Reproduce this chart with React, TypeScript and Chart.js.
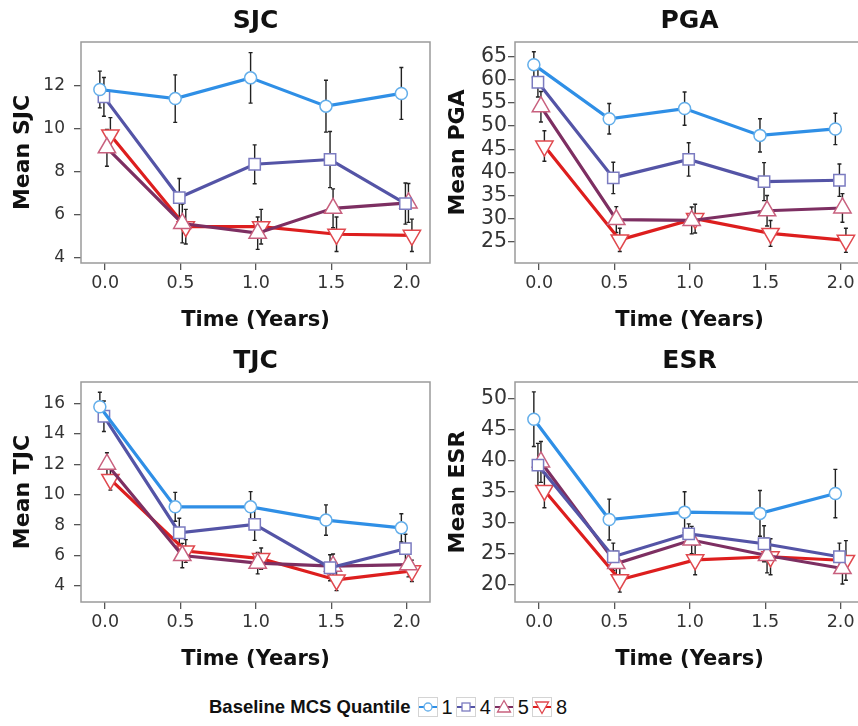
import React, { useEffect, useRef } from "react";
import { Chart, registerables } from "chart.js";
Chart.register(...registerables);

// ---------- data ----------
const timePoints = [0, 0.5, 1, 1.5, 2];
const xTickLabels = ["0.0", "0.5", "1.0", "1.5", "2.0"];
const quantiles = ["1", "4", "5", "8"];
const dodge = [-0.035, -0.008, 0.012, 0.035];

const sjcQ1 = [11.8, 11.38, 12.34, 11.03, 11.62];
const sjcQ4 = [11.46, 6.8, 8.34, 8.56, 6.52];
const sjcQ5 = [9.1, 5.6, 5.15, 6.3, 6.55];
const sjcQ8 = [9.7, 5.45, 5.45, 5.1, 5.05];
const sjcQ1Se = [0.85, 1.1, 1.17, 1.2, 1.2];
const sjcQ4Se = [0.9, 0.88, 0.9, 1.3, 0.95];
const sjcQ5Se = [0.85, 0.9, 0.75, 0.9, 0.9];
const sjcQ8Se = [0.8, 0.8, 0.8, 0.8, 0.75];
const sjcTicks = [4, 6, 8, 10, 12];

const pgaQ1 = [63.3, 51.6, 53.8, 48.0, 49.4];
const pgaQ4 = [59.5, 38.8, 42.8, 38.0, 38.3];
const pgaQ5 = [54.2, 29.8, 29.6, 31.7, 32.3];
const pgaQ8 = [45.7, 25.4, 30.0, 26.8, 25.3];
const pgaQ1Se = [2.8, 3.3, 3.6, 3.6, 3.4];
const pgaQ4Se = [3.2, 3.4, 3.6, 4.1, 3.5];
const pgaQ5Se = [3.3, 2.8, 2.9, 3.3, 3.1];
const pgaQ8Se = [3.3, 2.5, 3.1, 2.8, 2.6];
const pgaTicks = [25, 30, 35, 40, 45, 50, 55, 60, 65];

const tjcQ1 = [15.78, 9.2, 9.2, 8.33, 7.82];
const tjcQ4 = [15.15, 7.5, 8.05, 5.2, 6.45];
const tjcQ5 = [12.0, 6.0, 5.5, 5.3, 5.4];
const tjcQ8 = [11.0, 6.3, 5.8, 4.4, 5.0];
const tjcQ1Se = [0.95, 0.95, 1.0, 1.0, 0.93];
const tjcQ4Se = [1.0, 0.95, 1.05, 0.85, 0.95];
const tjcQ5Se = [0.75, 0.8, 0.7, 0.8, 0.8];
const tjcQ8Se = [0.7, 0.75, 0.7, 0.7, 0.7];
const tjcTicks = [4, 6, 8, 10, 12, 14, 16];

const esrQ1 = [46.7, 30.5, 31.7, 31.5, 34.7];
const esrQ4 = [39.3, 24.5, 28.2, 26.6, 24.5];
const esrQ5 = [39.8, 23.4, 27.2, 24.7, 22.6];
const esrQ8 = [35.2, 20.8, 24.0, 24.5, 23.9];
const esrQ1Se = [4.4, 3.3, 3.3, 3.7, 3.9];
const esrQ4Se = [3.5, 2.2, 1.6, 2.9, 2.2];
const esrQ5Se = [3.3, 2.0, 2.2, 2.8, 2.5];
const esrQ8Se = [2.8, 2.0, 2.4, 2.9, 3.2];
const esrTicks = [20, 25, 30, 35, 40, 45, 50];

// ---------- styles ----------
const lineColors = ["#2f8fe6", "#5454a6", "#7d2f62", "#dd1e1e"];
const markerColors = ["#63aeea", "#7b7bc0", "#c8607e", "#e0484e"];
const pointStyles = ["circle", "rect", "triangle", "triangle"];
const pointRadii = [6, 8, 10, 10];
const pointRotations = [0, 0, 0, 180];
const FONT = "'DejaVu Sans', 'Liberation Sans', Arial, sans-serif";
const LEGEND_FONT = "'Liberation Sans', Arial, sans-serif";

type Panel = {
  title: string;
  yTitle: string;
  means: number[][];
  ses: number[][];
  yTicks: number[];
  yMin: number;
  yMax: number;
  left: number;
  top: number;
  width: number;
  height: number;
  padTop: number;
  padRight: number;
  yWidth: number;
  yTitlePad: number;
  yTickPad: number;
  yTickFont: number;
};

const panels: Panel[] = [
  {
    title: "SJC", yTitle: "Mean SJC",
    means: [sjcQ1, sjcQ4, sjcQ5, sjcQ8], ses: [sjcQ1Se, sjcQ4Se, sjcQ5Se, sjcQ8Se],
    yTicks: sjcTicks, yMin: 3.77, yMax: 14.0,
    left: 0, top: 0, width: 432, height: 335, padTop: 42, padRight: 2,
    yWidth: 81, yTitlePad: 10, yTickPad: 9, yTickFont: 17,
  },
  {
    title: "PGA", yTitle: "Mean PGA",
    means: [pgaQ1, pgaQ4, pgaQ5, pgaQ8], ses: [pgaQ1Se, pgaQ4Se, pgaQ5Se, pgaQ8Se],
    yTicks: pgaTicks, yMin: 20.4, yMax: 68.2,
    left: 430, top: 0, width: 436, height: 335, padTop: 42, padRight: 2,
    yWidth: 85, yTitlePad: 15, yTickPad: 1, yTickFont: 20.5,
  },
  {
    title: "TJC", yTitle: "Mean TJC",
    means: [tjcQ1, tjcQ4, tjcQ5, tjcQ8], ses: [tjcQ1Se, tjcQ4Se, tjcQ5Se, tjcQ8Se],
    yTicks: tjcTicks, yMin: 2.95, yMax: 17.4,
    left: 0, top: 335, width: 432, height: 339, padTop: 47, padRight: 2,
    yWidth: 81, yTitlePad: 10, yTickPad: 9, yTickFont: 17,
  },
  {
    title: "ESR", yTitle: "Mean ESR",
    means: [esrQ1, esrQ4, esrQ5, esrQ8], ses: [esrQ1Se, esrQ4Se, esrQ5Se, esrQ8Se],
    yTicks: esrTicks, yMin: 17.2, yMax: 52.7,
    left: 430, top: 335, width: 436, height: 339, padTop: 47, padRight: 2,
    yWidth: 85, yTitlePad: 15, yTickPad: 1, yTickFont: 20.5,
  },
];

function PanelChart({ p }: { p: Panel }) {
  const ref = useRef<HTMLCanvasElement | null>(null);
  useEffect(() => {
    if (!ref.current) return;
    const decor = {
      id: "decor",
      beforeDatasetsDraw(chart: any) {
        const { ctx, chartArea: a, scales } = chart;
        ctx.save();
        ctx.strokeStyle = "#9a9a9a";
        ctx.lineWidth = 1.5;
        ctx.strokeRect(a.left, a.top, a.right - a.left, a.bottom - a.top);
        // error bars
        ctx.strokeStyle = "#222";
        ctx.lineWidth = 1.4;
        p.means.forEach((m, i) => {
          m.forEach((v, j) => {
            const x = scales.x.getPixelForValue(timePoints[j] + dodge[i]);
            const y1 = scales.y.getPixelForValue(v - p.ses[i][j]);
            const y2 = scales.y.getPixelForValue(v + p.ses[i][j]);
            ctx.beginPath();
            ctx.moveTo(x, y1);
            ctx.lineTo(x, y2);
            ctx.moveTo(x - 2, y1);
            ctx.lineTo(x + 2, y1);
            ctx.moveTo(x - 2, y2);
            ctx.lineTo(x + 2, y2);
            ctx.stroke();
          });
        });
        ctx.restore();
      },
      afterDraw(chart: any) {
        const { ctx, chartArea: a } = chart;
        ctx.save();
        ctx.fillStyle = "#111";
        ctx.font = `bold 25px ${FONT}`;
        ctx.textAlign = "center";
        ctx.textBaseline = "middle";
        ctx.fillText(p.title, (a.left + a.right) / 2, a.top - 21);
        ctx.restore();
      },
    };
    const chart = new Chart(ref.current, {
      type: "line",
      data: {
        datasets: p.means.map((m, i) => ({
          label: quantiles[i],
          data: m.map((v, j) => ({ x: timePoints[j] + dodge[i], y: v })),
          borderColor: lineColors[i],
          borderWidth: 3.2,
          pointStyle: pointStyles[i] as any,
          pointRadius: pointRadii[i],
          pointRotation: pointRotations[i],
          pointBackgroundColor: "#ffffff",
          pointBorderColor: markerColors[i],
          pointBorderWidth: 1.5,
          tension: 0,
          clip: false as any,
        })),
      },
      options: {
        animation: false,
        responsive: false,
        devicePixelRatio: 1,
        layout: { autoPadding: false, padding: { top: p.padTop, right: p.padRight, left: 0, bottom: 0 } },
        plugins: { legend: { display: false }, tooltip: { enabled: false }, title: { display: false } },
        scales: {
          x: {
            type: "linear",
            min: -0.16,
            max: 2.155,
            afterBuildTicks: (s: any) => {
              s.ticks = timePoints.map((v) => ({ value: v }));
            },
            afterFit: (s: any) => {
              s.height = 72;
              s.paddingLeft = 0;
              s.paddingRight = 0;
            },
            ticks: {
              callback: (v: any) => xTickLabels[timePoints.indexOf(Number(v))] ?? "",
              font: { family: FONT, size: 17.5 },
              color: "#333",
              padding: 3,
              maxRotation: 0,
              autoSkip: false,
            },
            grid: { drawOnChartArea: false, drawTicks: true, tickLength: 7, color: "#555", lineWidth: 1.3 },
            border: { display: false },
            title: {
              display: true,
              text: "Time (Years)",
              font: { family: FONT, size: 21, weight: "bold" },
              color: "#111",
              padding: { top: 0, bottom: 2 },
            },
          },
          y: {
            type: "linear",
            min: p.yMin,
            max: p.yMax,
            afterBuildTicks: (s: any) => {
              s.ticks = p.yTicks.map((v) => ({ value: v }));
            },
            afterFit: (s: any) => {
              s.width = p.yWidth;
              s.paddingTop = 0;
              s.paddingBottom = 0;
            },
            ticks: {
              font: { family: FONT, size: p.yTickFont },
              color: "#333",
              padding: p.yTickPad,
              autoSkip: false,
            },
            grid: { drawOnChartArea: false, drawTicks: true, tickLength: 7, color: "#555", lineWidth: 1.3 },
            border: { display: false },
            title: {
              display: true,
              text: p.yTitle,
              font: { family: FONT, size: 22, weight: "bold" },
              color: "#111",
              padding: { top: p.yTitlePad, bottom: 0 },
            },
          },
        },
      },
      plugins: [decor],
    });
    return () => chart.destroy();
  }, [p]);
  return (
    <canvas
      ref={ref}
      width={p.width}
      height={p.height}
      style={{ position: "absolute", left: p.left, top: p.top, width: p.width, height: p.height }}
    />
  );
}

function LegendKey({ i }: { i: number }) {
  const c = lineColors[i];
  const m = markerColors[i];
  let marker: React.ReactNode = null;
  if (i === 0) marker = <circle cx={9} cy={9} r={4} fill="#fff" stroke={m} strokeWidth={1.3} />;
  else if (i === 1) marker = <rect x={5} y={5} width={8} height={8} fill="#fff" stroke={m} strokeWidth={1.3} />;
  else if (i === 2) marker = <polygon points="9,2.5 15.5,14 2.5,14" fill="#fff" stroke={m} strokeWidth={1.3} />;
  else marker = <polygon points="9,15.5 15.5,4 2.5,4" fill="#fff" stroke={m} strokeWidth={1.3} />;
  return (
    <svg width={18} height={18} style={{ border: "1px solid #d4d4d4", display: "block" }}>
      <line x1={0} y1={9} x2={18} y2={9} stroke={c} strokeWidth={2} />
      {marker}
    </svg>
  );
}

export default function App() {
  return (
    <div
      style={{
        position: "fixed",
        left: 0,
        top: 0,
        width: 858,
        height: 726,
        overflow: "hidden",
        background: "#fff",
      }}
    >
      {panels.map((p) => (
        <PanelChart key={p.title} p={p} />
      ))}
      <div
        style={{
          position: "absolute",
          left: 209,
          top: 696,
          height: 22,
          display: "flex",
          alignItems: "center",
          fontFamily: LEGEND_FONT,
          color: "#111",
        }}
      >
        <span style={{ fontWeight: "bold", fontSize: 18.5, marginRight: 7 }}>Baseline MCS Quantile</span>
        {quantiles.map((q, i) => (
          <React.Fragment key={q}>
            <LegendKey i={i} />
            <span style={{ fontSize: 20, margin: "0 3px 0 4px" }}>{q}</span>
          </React.Fragment>
        ))}
      </div>
    </div>
  );
}
